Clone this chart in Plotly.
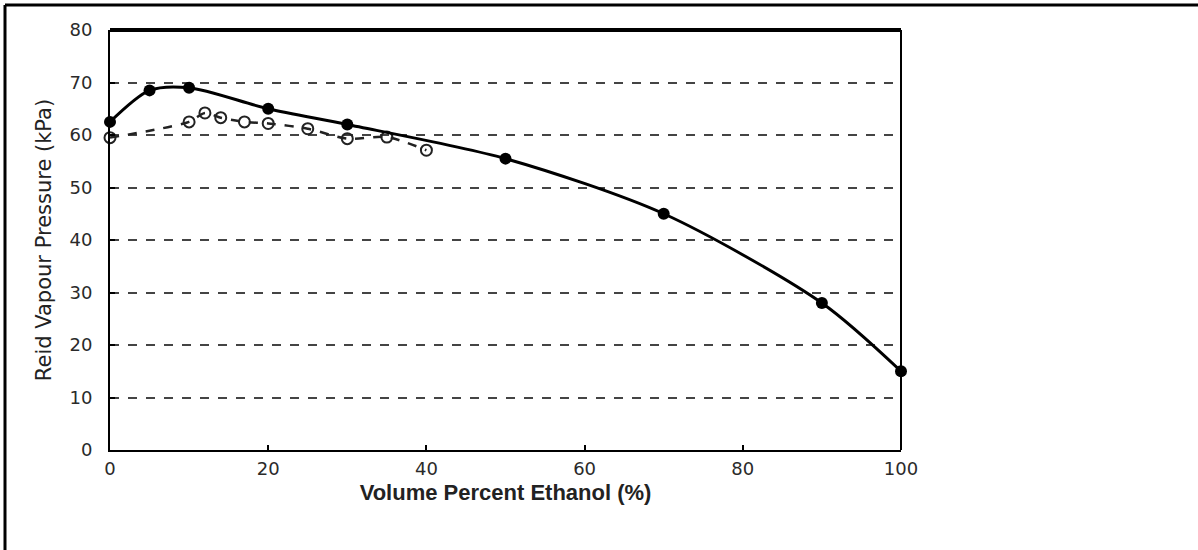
import plotly.graph_objects as go

# Data
ethanol_a = [0, 5, 10, 20, 30, 50, 70, 90, 100]
rvp_a = [62.5, 68.5, 69, 65, 62, 55.5, 45, 28, 15]

ethanol_b = [0, 10, 12, 14, 17, 20, 25, 30, 35, 40]
rvp_b = [59.5, 62.5, 64.2, 63.3, 62.5, 62.2, 61.2, 59.3, 59.6, 57.1]

x_ticks = [0, 20, 40, 60, 80, 100]
y_ticks = [0, 10, 20, 30, 40, 50, 60, 70, 80]

L, R, T, B = 110, 297, 30, 100
W, H = 1198, 550
pw, ph = W - L - R, H - T - B

def px(x):
    return (x - L) / pw

def py(y):
    return (H - B - y) / ph

fig = go.Figure()

fig.add_trace(go.Scatter(
    x=ethanol_b, y=rvp_b, mode="lines+markers",
    line=dict(color="#222", width=2.5, dash="dash", shape="spline", smoothing=0.8),
    marker=dict(symbol="circle-open", size=11, color="#222", line=dict(width=2)),
    showlegend=False, cliponaxis=False,
))
fig.add_trace(go.Scatter(
    x=ethanol_a, y=rvp_a, mode="lines+markers",
    line=dict(color="black", width=3, shape="spline", smoothing=0.8),
    marker=dict(symbol="circle", size=12, color="black"),
    showlegend=False, cliponaxis=False,
))

tickfont = dict(family="DejaVu Sans, sans-serif", size=18, color="#2a2a2a")

fig.update_layout(
    width=W, height=H,
    margin=dict(l=L, r=R, t=T, b=B),
    paper_bgcolor="white", plot_bgcolor="white",
    xaxis=dict(
        range=[0, 100], tickvals=x_ticks, ticks="inside", ticklen=5, tickwidth=2,
        tickcolor="black", showgrid=False, zeroline=False,
        showline=True, linecolor="black", linewidth=2, mirror=False,
        ticklabelstandoff=1,
        title=dict(text="Volume Percent Ethanol (%)", standoff=7,
                   font=dict(family="Liberation Sans, Arial, sans-serif", size=22,
                             color="#222", weight="bold")),
        tickfont=tickfont,
    ),
    yaxis=dict(
        range=[0, 80], tickvals=y_ticks, ticks="inside", ticklen=5, tickwidth=2,
        tickcolor="black", showgrid=True, gridcolor="#444", griddash="dash", gridwidth=1.5,
        zeroline=False, showline=True, linecolor="black", linewidth=2,
        ticklabelstandoff=12,
        title=dict(text="Reid Vapour Pressure (kPa)", standoff=12,
                   font=dict(family="DejaVu Sans, sans-serif", size=21, color="#222")),
        tickfont=tickfont,
    ),
    shapes=[
        dict(type="line", xref="paper", yref="paper", x0=0, x1=1, y0=1, y1=1,
             line=dict(color="black", width=4)),
        dict(type="line", xref="paper", yref="paper", x0=1, x1=1, y0=0, y1=1,
             line=dict(color="black", width=2)),
        dict(type="line", xref="paper", yref="paper", x0=px(5), x1=px(5), y0=py(H), y1=py(5),
             line=dict(color="black", width=3)),
        dict(type="line", xref="paper", yref="paper", x0=px(5), x1=px(W), y0=py(5), y1=py(5),
             line=dict(color="black", width=3)),
    ],
)

fig.write_html("out.html")
